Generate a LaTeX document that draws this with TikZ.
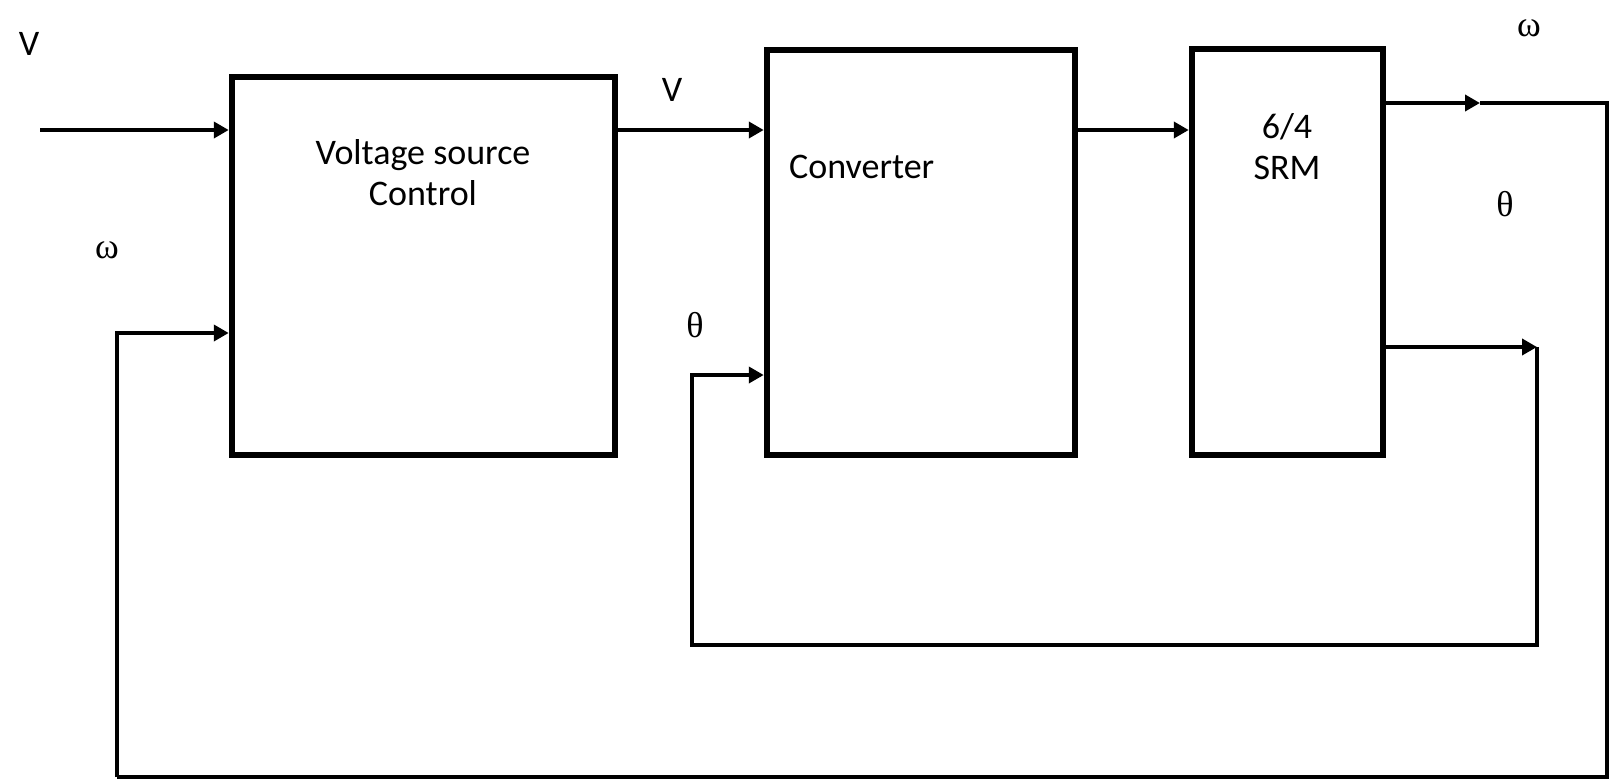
\documentclass[tikz,border=0pt]{standalone}
\usepackage{fontspec}
\setmainfont{Carlito}
\newfontfamily\grk{Liberation Serif}
\usetikzlibrary{arrows.meta}

\tikzset{
  blk/.style={draw=black,line width=6.5pt,inner sep=0pt},
  conn/.style={line width=4pt},
  arr/.style={conn,-{Triangle[length=15pt,width=16pt]}},
  lbl/.style={inner sep=0pt,font=\fontsize{36}{41}\selectfont,align=center},
  glbl/.style={inner sep=0pt,font=\grk\fontsize{36}{40}\selectfont}
}

\begin{document}
\begin{tikzpicture}[x=1pt,y=-1pt]
\useasboundingbox (0,0) rectangle (1610,779);
% blocks
\node [blk,minimum width=383pt,minimum height=378pt] (vsc) at (423.5,266) {};
\node [blk,minimum width=308pt,minimum height=405pt] (conv) at (921,252.5) {};
\node [blk,minimum width=191pt,minimum height=406pt] (srm) at (1287.5,252) {};
\node [lbl] (vsctxt) at (423,173) {Voltage source\\Control};
\node [lbl,anchor=west] (convtxt) at (789,167) {Converter};
\node [lbl] (srmtxt) at (1287,147) {6/4\\SRM};
% signal labels
\node [lbl] (vin) at (29,44) {V};
\node [lbl] (vout) at (672,90) {V};
\node [glbl] (wtop) at (1529,28) {ω};
\node [glbl] (wleft) at (107,250) {ω};
\node [glbl] (thright) at (1505,204) {θ};
\node [glbl] (thconv) at (695,325) {θ};
% levels
\coordinate (start) at (40,130);
\coordinate (yv) at (0,130);
\coordinate (yw) at (0,103);
\coordinate (yth) at (0,347);
\coordinate (ythin) at (0,375);
\coordinate (ywin) at (0,333);
\coordinate (wmid) at (1480,103);
\coordinate (wright) at (1607,103);
\coordinate (wbot) at (117,777);
\coordinate (thcorner) at (1537,347);
\coordinate (thbot) at (692,645);
% forward path
\draw [arr] (start) -- (vsc.west |- yv);
\draw [arr] (vsc.east |- yv) -- (conv.west |- yv);
\draw [arr] (conv.east |- yv) -- (srm.west |- yv);
% speed feedback
\draw [arr] (srm.east |- yw) -- (wmid);
\draw [conn] (wmid) -- (wright) |- (wbot);
\draw [arr] (wbot) |- (vsc.west |- ywin);
% position feedback
\draw [arr] (srm.east |- yth) -- (thcorner);
\draw [arr] (thcorner) |- (thbot) |- (conv.west |- ythin);
\end{tikzpicture}
\end{document}
